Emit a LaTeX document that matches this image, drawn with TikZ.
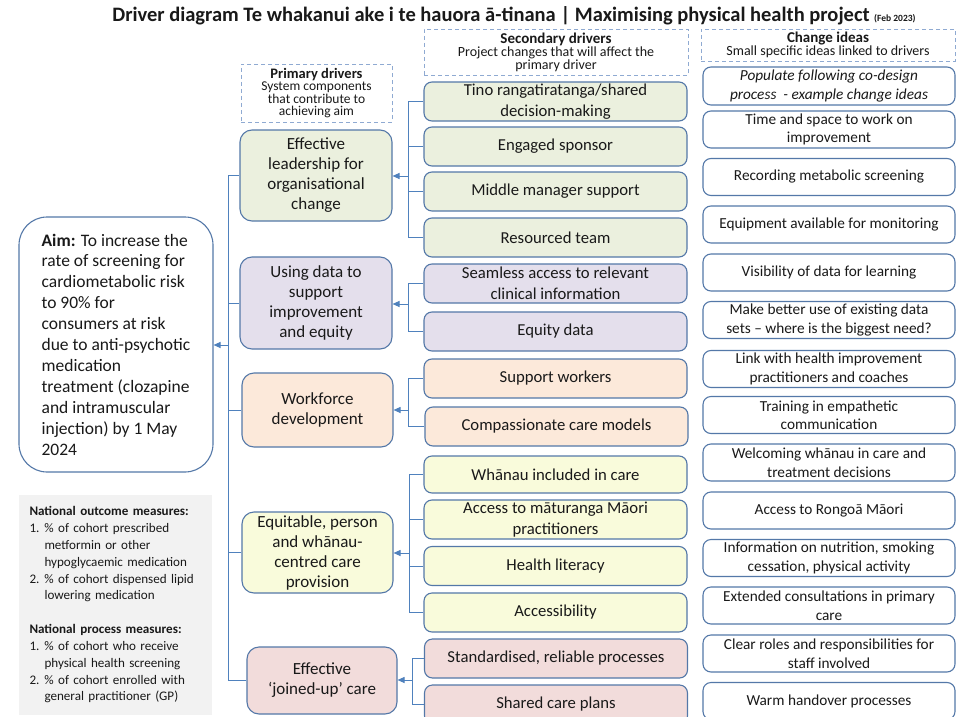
\documentclass[tikz,border=0pt]{standalone}
\usepackage{fontspec}
\setmainfont{Carlito}
\usetikzlibrary{arrows.meta}
\definecolor{bordc}{RGB}{84,120,168}
\definecolor{connc}{RGB}{79,129,189}
\definecolor{dashc}{RGB}{143,170,210}
\definecolor{txtc}{RGB}{25,25,25}
\definecolor{gfill}{RGB}{235,240,222}
\definecolor{lfill}{RGB}{228,223,236}
\definecolor{ofill}{RGB}{252,233,218}
\definecolor{yfill}{RGB}{249,251,219}
\definecolor{rfill}{RGB}{242,220,219}
\definecolor{grayc}{RGB}{242,242,242}
\begin{document}
\begin{tikzpicture}[x=1pt,y=-1pt,
  box/.style={draw=bordc, line width=1.1pt, align=center, inner sep=0pt, text=txtc},
  prim/.style={box, rounded corners=12pt, font=\fontsize{17}{20}\selectfont},
  sec/.style={box, rounded corners=8pt, minimum width=263pt, minimum height=39pt, font=\fontsize{16.7}{21}\selectfont},
  idea/.style={box, fill=white, rounded corners=8pt, minimum width=252pt, minimum height=37pt, font=\fontsize{15.3}{18.5}\selectfont},
  hdr/.style={draw=dashc, dash pattern=on 4pt off 3pt, line width=0.9pt, align=center, inner sep=0pt, text=txtc, font=\fontsize{14}{11}\selectfont},
  conn/.style={draw=connc, line width=1pt},
  arr/.style={conn, -{Triangle[length=7pt,width=6pt]}}
]
\useasboundingbox (0,0) rectangle (958,717);
\fill[white] (0,0) rectangle (958,717);

% title
\node[text=txtc, font=\bfseries\fontsize{20.5}{22}\selectfont] (title) at (514,16)
  {Driver diagram Te whakanui ake i te hauora ā-tinana | Maximising physical health project {\fontsize{9.5}{12}\selectfont (Feb 2023)}};

% headers
\node[hdr, minimum width=264pt, minimum height=46pt] (hsec) at (556,52)
  {{\bfseries\fontsize{15}{11}\selectfont Secondary drivers}\\Project changes that will affect the\\primary driver};
\node[hdr, minimum width=254pt, minimum height=32pt] (hidea) at (828,45)
  {{\bfseries\fontsize{15}{11}\selectfont Change ideas}\\Small specific ideas linked to drivers};
\node[hdr, minimum width=151pt, minimum height=58pt, font=\fontsize{13.5}{12.5}\selectfont] (hprim) at (316.5,93)
  {{\bfseries\fontsize{14.5}{12.5}\selectfont Primary drivers}\\System components\\that contribute to\\achieving aim};

% aim
\node[box, rounded corners=28pt, minimum width=194pt, minimum height=255pt, align=left,
      font=\fontsize{17.5}{20.9}\selectfont] (aim) at (116,344.5)
  {\textbf{Aim:} To increase the\\rate of screening for\\cardiometabolic risk\\to 90\% for\\consumers at risk\\due to anti-psychotic\\medication\\treatment (clozapine\\and intramuscular\\injection) by 1 May\\2024};

% measures
\node[fill=grayc, minimum width=193pt, minimum height=220pt, text width=172pt, align=left,
      inner sep=0pt, text=txtc, font=\fontsize{13.1}{16.8}\selectfont] (meas) at (115.5,605)
  {\textbf{National outcome measures:}\\
   \makebox[15pt][l]{1.}\% of cohort prescribed\\
   \hspace*{15pt}metformin or other\\
   \hspace*{15pt}hypoglycaemic medication\\
   \makebox[15pt][l]{2.}\% of cohort dispensed lipid\\
   \hspace*{15pt}lowering medication\\[17pt]
   \textbf{National process measures:}\\
   \makebox[15pt][l]{1.}\% of cohort who receive\\
   \hspace*{15pt}physical health screening\\
   \makebox[15pt][l]{2.}\% of cohort enrolled with\\
   \hspace*{15pt}general practitioner (GP)};

% primary drivers
\node[prim, fill=gfill, minimum width=152pt, minimum height=91pt] (p1) at (316,175.5)
  {Effective\\leadership for\\organisational\\change};
\node[prim, fill=lfill, minimum width=152pt, minimum height=92pt] (p2) at (316,303)
  {Using data to\\support\\improvement\\and equity};
\node[prim, fill=ofill, minimum width=151pt, minimum height=74pt] (p3) at (317.5,410)
  {Workforce\\development};
\node[prim, fill=yfill, minimum width=151pt, minimum height=81pt] (p4) at (317.5,552.5)
  {Equitable, person\\and whānau-\\centred care\\provision};
\node[prim, fill=rfill, minimum width=150pt, minimum height=67pt] (p5) at (322,680.5)
  {Effective\\‘joined-up’ care};

% secondary drivers
\node[sec, fill=gfill] (s11) at (555.5,101.5) {Tino rangatiratanga/shared\\decision-making};
\node[sec, fill=gfill] (s12) at (555.5,146.5) {Engaged sponsor};
\node[sec, fill=gfill] (s13) at (555.5,191.5) {Middle manager support};
\node[sec, fill=gfill] (s14) at (555.5,237.5) {Resourced team};
\node[sec, fill=lfill] (s21) at (555.5,283.5) {Seamless access to relevant\\clinical information};
\node[sec, fill=lfill] (s22) at (555.5,331.5) {Equity data};
\node[sec, fill=ofill] (s31) at (555.5,378.5) {Support workers};
\node[sec, fill=ofill] (s32) at (556.5,426.5) {Compassionate care models};
\node[sec, fill=yfill, minimum height=37pt] (s41) at (555.5,474.5) {Whānau included in care};
\node[sec, fill=yfill] (s42) at (555.5,519.5) {Access to māturanga Māori\\practitioners};
\node[sec, fill=yfill] (s43) at (555.5,566) {Health literacy};
\node[sec, fill=yfill] (s44) at (555.5,612.5) {Accessibility};
\node[sec, fill=rfill] (s51) at (556,658.5) {Standardised, reliable processes};
\node[sec, fill=rfill] (s52) at (556,704.5) {Shared care plans};

% change ideas
\node[idea, minimum height=38pt, font=\itshape\fontsize{15.3}{18.5}\selectfont] (c0) at (829,86)
  {Populate following co-design\\process\ \ - example change ideas};
\node[idea] (c1) at (829,129.5) {Time and space to work on\\improvement};
\node[idea] (c2) at (829,177) {Recording metabolic screening};
\node[idea] (c3) at (829,224.5) {Equipment available for monitoring};
\node[idea] (c4) at (829,272.5) {Visibility of data for learning};
\node[idea] (c5) at (829,320) {Make better use of existing data\\sets – where is the biggest need?};
\node[idea] (c6) at (829,369) {Link with health improvement\\practitioners and coaches};
\node[idea] (c7) at (829,415) {Training in empathetic\\communication};
\node[idea] (c8) at (829,462.5) {Welcoming whānau in care and\\treatment decisions};
\node[idea] (c9) at (829,510.5) {Access to Rongoā Māori};
\node[idea] (c10) at (829,558) {Information on nutrition, smoking\\cessation, physical activity};
\node[idea] (c11) at (829,605.5) {Extended consultations in primary\\care};
\node[idea] (c12) at (829,653.5) {Clear roles and responsibilities for\\staff involved};
\node[idea] (c13) at (829,701) {Warm handover processes};

% secondary -> primary connectors
\coordinate (b1) at (408,176);
\coordinate (b2) at (408,304);
\coordinate (b3) at (408,410);
\coordinate (b4) at (409,553);
\coordinate (b5) at (412,680);
\foreach \s in {s11,s12,s13,s14} \draw[conn] (\s.west) -| (b1);
\foreach \s in {s21,s22} \draw[conn] (\s.west) -| (b2);
\foreach \s in {s31,s32} \draw[conn] (\s.west) -| (b3);
\foreach \s in {s41,s42,s43,s44} \draw[conn] (\s.west) -| (b4);
\foreach \s in {s51,s52} \draw[conn] (\s.west) -| (b5);
\draw[arr] (b1) -- (b1 -| p1.east);
\draw[arr] (b2) -- (b2 -| p2.east);
\draw[arr] (b3) -- (b3 -| p3.east);
\draw[arr] (b4) -- (b4 -| p4.east);
\draw[arr] (b5) -- (b5 -| p5.east);

% primary -> aim trunk
\coordinate (tr) at (228,345);
\foreach \p in {p1,p2,p3,p4,p5} \draw[conn] (\p.west) -| (tr);
\draw[arr] (tr) -- (tr -| aim.east);
\end{tikzpicture}
\end{document}
